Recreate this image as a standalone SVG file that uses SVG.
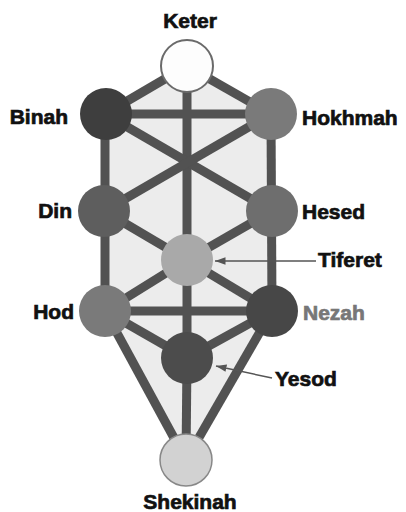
<svg xmlns="http://www.w3.org/2000/svg" width="406" height="512" viewBox="0 0 406 512">
<style>
.lbl{font-family:"Liberation Sans",Arial,sans-serif;font-weight:bold;font-size:21px;fill:#111;stroke:#111;stroke-width:0.7}
.ln{stroke:#525252;stroke-width:9;stroke-linecap:butt}
.ptr{stroke:#555;stroke-width:1.5;fill:none}
</style>
<defs>
<marker id="ah" viewBox="0 0 10 10" refX="10" refY="5" markerWidth="7" markerHeight="7" orient="auto">
<path d="M0,1.5 L10,5 L0,8.5 Z" fill="#555"/>
</marker>
</defs>
<rect width="406" height="512" fill="#fff"/>
<polygon points="187,66 271,114 272,311 186,460 105,311 105,114" fill="#ececec"/>
<g id="connectors">
<line class="ln" x1="187" y1="66" x2="105" y2="114"/>
<line class="ln" x1="187" y1="66" x2="271" y2="114"/>
<line class="ln" x1="187" y1="66" x2="187" y2="358"/>
<line class="ln" x1="105" y1="114" x2="271" y2="114"/>
<line class="ln" x1="105" y1="114" x2="105" y2="311"/>
<line class="ln" x1="271" y1="114" x2="272" y2="311"/>
<line class="ln" x1="105" y1="114" x2="272" y2="211"/>
<line class="ln" x1="271" y1="114" x2="104" y2="211"/>
<line class="ln" x1="104" y1="211" x2="187" y2="260"/>
<line class="ln" x1="272" y1="211" x2="187" y2="260"/>
<line class="ln" x1="187" y1="260" x2="105" y2="311"/>
<line class="ln" x1="187" y1="260" x2="272" y2="311"/>
<line class="ln" x1="105" y1="311" x2="272" y2="311"/>
<line class="ln" x1="105" y1="311" x2="187" y2="358"/>
<line class="ln" x1="272" y1="311" x2="187" y2="358"/>
<line class="ln" x1="105" y1="311" x2="186" y2="460"/>
<line class="ln" x1="272" y1="311" x2="186" y2="460"/>
<line class="ln" x1="187" y1="358" x2="186" y2="460"/>
<line class="ptr" x1="316" y1="261" x2="215" y2="261" marker-end="url(#ah)"/>
<line class="ptr" x1="272" y1="378" x2="216" y2="366" marker-end="url(#ah)"/>
</g>
<g id="keter"><circle cx="187" cy="66" r="26" fill="#fdfdfd" stroke="#6a6a6a" stroke-width="2"/><text class="lbl" x="190" y="28" text-anchor="middle">Keter</text></g>
<g id="binah"><circle cx="106" cy="114" r="26" fill="#3e3e3e"/><text class="lbl" x="68" y="124" text-anchor="end">Binah</text></g>
<g id="hokhmah"><circle cx="271" cy="114" r="26" fill="#7a7a7a"/><text class="lbl" x="302" y="125">Hokhmah</text></g>
<g id="din"><circle cx="104" cy="211" r="26" fill="#5e5e5e"/><text class="lbl" x="72" y="218" text-anchor="end">Din</text></g>
<g id="hesed"><circle cx="272" cy="211" r="26" fill="#6e6e6e"/><text class="lbl" x="302" y="219">Hesed</text></g>
<g id="tiferet"><circle cx="187" cy="260" r="26" fill="#a9a9a9"/><text class="lbl" x="318" y="267">Tiferet</text></g>
<g id="hod"><circle cx="105" cy="311" r="26" fill="#7a7a7a"/><text class="lbl" x="74" y="319" text-anchor="end">Hod</text></g>
<g id="nezah"><circle cx="272" cy="311" r="26" fill="#474747"/><text class="lbl" x="303" y="320" style="fill:#777;stroke:#777">Nezah</text></g>
<g id="yesod"><circle cx="187" cy="358" r="26" fill="#4c4c4c"/><text class="lbl" x="275" y="386">Yesod</text></g>
<g id="shekinah"><circle cx="186" cy="460" r="26" fill="#d2d2d2" stroke="#888" stroke-width="1.5"/><text class="lbl" x="190" y="509" text-anchor="middle">Shekinah</text></g>
</svg>
